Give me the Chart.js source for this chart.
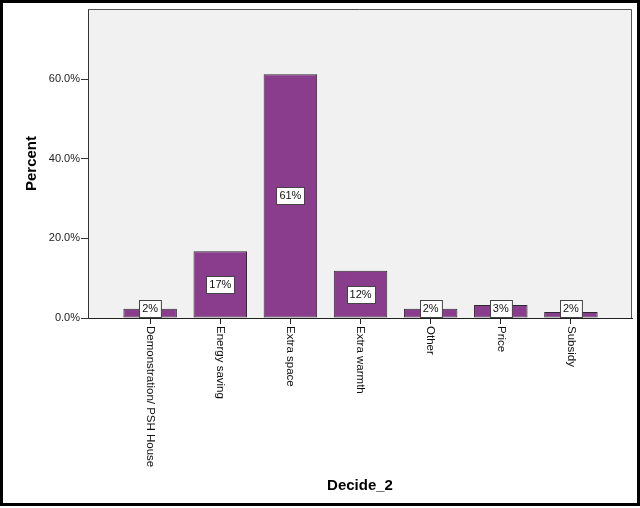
<!DOCTYPE html>
<html lang="en">
<head>
<meta charset="UTF-8">
<title>Decide_2</title>
<style>
  html, body { margin: 0; padding: 0; background: #fff; }
  #wrap { width: 640px; height: 508px; }
</style>
</head>
<body>
<div id="wrap"><canvas id="chart" width="640" height="508"></canvas></div>
<script src="https://cdn.jsdelivr.net/npm/chart.js"></script>
<script>
const categories = ['Demonstration/ PSH House', 'Energy saving', 'Extra space', 'Extra warmth', 'Other', 'Price', 'Subsidy'];
const percents = [2.3, 16.8, 61.3, 11.9, 2.3, 3.3, 1.5];
const barLabels = ['2%', '17%', '61%', '12%', '2%', '3%', '2%'];
const yTicks = [0, 20, 40, 60];

const FONT = '"Liberation Sans", Arial, sans-serif';

// background, outer frame and grey plot panel
const framePlugin = {
    id: 'frame',
    beforeDraw(chart) {
        const ctx = chart.ctx;
        const a = chart.chartArea;
        ctx.save();
        ctx.fillStyle = '#fff';
        ctx.fillRect(0, 0, chart.width, chart.height);
        ctx.strokeStyle = '#000';
        ctx.lineWidth = 3;
        ctx.strokeRect(1.5, 1.5, chart.width - 3, chart.height - 5);
        ctx.fillStyle = '#f1f1f1';
        ctx.fillRect(a.left, a.top, a.right - a.left, a.bottom - a.top);
        ctx.restore();
    },
    afterDraw(chart) {
        const ctx = chart.ctx;
        const a = chart.chartArea;
        ctx.save();
        ctx.strokeStyle = '#555';
        ctx.lineWidth = 1;
        ctx.beginPath();
        ctx.moveTo(a.left, a.top + 0.5);
        ctx.lineTo(a.right - 0.5, a.top + 0.5);
        ctx.lineTo(a.right - 0.5, a.bottom);
        ctx.stroke();

        // value boxes on the bars
        const meta = chart.getDatasetMeta(0);
        ctx.font = '11px ' + FONT;
        ctx.textAlign = 'center';
        ctx.textBaseline = 'middle';
        meta.data.forEach((bar, i) => {
            const txt = barLabels[i];
            const w = ctx.measureText(txt).width + 6;
            const h = 17;
            let cy = (bar.y + bar.base) / 2;
            cy = Math.min(cy, bar.base - h / 2 - 1);
            const x0 = Math.round(bar.x - w / 2) + 0.5;
            const y0 = Math.round(cy - h / 2) + 0.5;
            ctx.fillStyle = '#fff';
            ctx.fillRect(x0, y0, w, h);
            ctx.strokeStyle = '#444';
            ctx.strokeRect(x0, y0, w, h);
            ctx.fillStyle = '#111';
            ctx.fillText(txt, bar.x, cy + 0.5);
        });

        // category labels, rotated to read downwards
        const xs = chart.scales.x;
        ctx.font = '11.5px ' + FONT;
        ctx.textAlign = 'left';
        ctx.textBaseline = 'middle';
        ctx.fillStyle = '#111';
        categories.forEach((c, i) => {
            ctx.save();
            ctx.translate(xs.getPixelForValue(i), a.bottom + 8);
            ctx.rotate(Math.PI / 2);
            ctx.fillText(c, 0, 0);
            ctx.restore();
        });
        ctx.restore();
    }
};

new Chart(document.getElementById('chart'), {
    type: 'bar',
    data: {
        datasets: [{
            label: 'Percent',
            data: percents.map((v, i) => ({ x: i, y: v })),
            backgroundColor: '#8a3d8c',
            borderColor: '#2b2b2b',
            borderWidth: 1,
            borderSkipped: false,
            categoryPercentage: 1,
            barPercentage: 0.763
        }]
    },
    options: {
        responsive: false,
        animation: false,
        layout: { padding: { left: 8, top: 9, right: 8, bottom: 8 } },
        plugins: {
            legend: { display: false },
            tooltip: { enabled: false }
        },
        scales: {
            x: {
                type: 'linear',
                offset: false,
                min: -0.886,
                max: 6.871,
                afterBuildTicks: s => { s.ticks = categories.map((c, i) => ({ value: i })); },
                afterFit: s => { s.height = 182; },
                ticks: { display: false },
                grid: { display: true, offset: false, drawOnChartArea: false, drawTicks: true, tickLength: 6, color: '#222' },
                border: { display: true, color: '#222', width: 1 },
                title: {
                    display: true,
                    text: 'Decide_2',
                    color: '#000',
                    font: { family: FONT, size: 15, weight: 'bold' },
                    padding: { top: 0, bottom: 5 }
                }
            },
            y: {
                min: 0,
                max: 77.7,
                afterBuildTicks: s => { s.ticks = yTicks.map(v => ({ value: v })); },
                afterFit: s => { s.width = 80; },
                ticks: {
                    color: '#222',
                    font: { family: FONT, size: 11 },
                    padding: 1,
                    callback: v => v.toFixed(1) + '%'
                },
                grid: { display: true, drawOnChartArea: false, drawTicks: true, tickLength: 7, color: '#333' },
                border: { display: true, color: '#333', width: 1 },
                title: {
                    display: true,
                    text: 'Percent',
                    color: '#000',
                    font: { family: FONT, size: 15, weight: 'bold' },
                    padding: { top: 15, bottom: 0 }
                }
            }
        }
    },
    plugins: [framePlugin]
});
</script>
</body>
</html>
